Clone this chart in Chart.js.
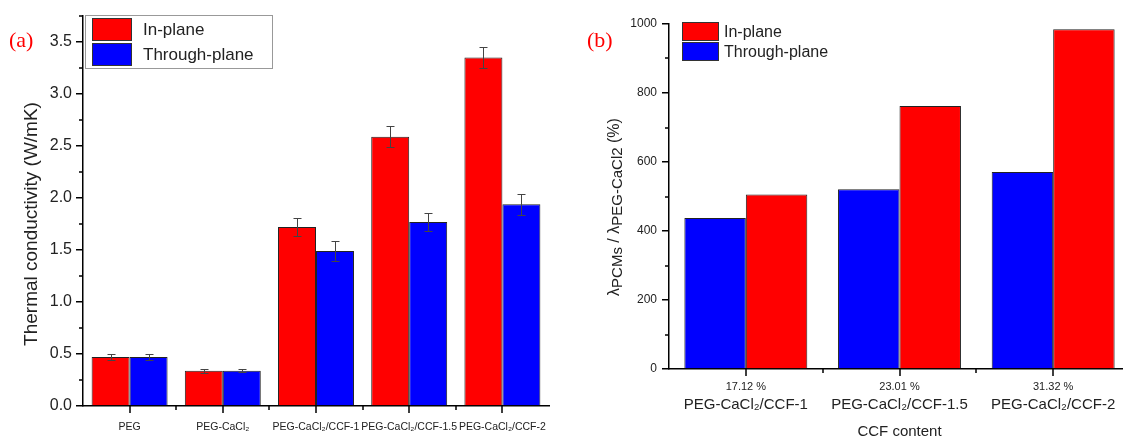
<!DOCTYPE html>
<html lang="en">
<head>
    <meta charset="UTF-8">
    <title>Thermal conductivity bars</title>
    <script src="https://cdn.jsdelivr.net/npm/chart.js"></script>
    <style>
        html, body { margin: 0; padding: 0; background: #fff; }
        body { width: 1123px; height: 441px; position: relative; overflow: hidden; }
        canvas { position: absolute; top: 0; }
        #chartA { left: 0; }
        #chartB { left: 560px; }
    </style>
</head>
<body>
    <canvas id="chartA" width="560" height="441"></canvas>
    <canvas id="chartB" width="580" height="441"></canvas>
    <script>
        // panel (a)
        var groupsA = ['PEG', 'PEG-CaCl₂', 'PEG-CaCl₂/CCF-1', 'PEG-CaCl₂/CCF-1.5', 'PEG-CaCl₂/CCF-2'];
        var inPlaneA = [0.47, 0.34, 1.72, 2.59, 3.35];
        var inPlaneErrA = [0.03, 0.02, 0.09, 0.10, 0.10];
        var throughA = [0.47, 0.34, 1.49, 1.77, 1.94];
        var throughErrA = [0.03, 0.015, 0.10, 0.09, 0.10];

        // panel (b)
        var contentB = ['17.12 %', '23.01 %', '31.32 %'];
        var samplesB = ['PEG-CaCl₂/CCF-1', 'PEG-CaCl₂/CCF-1.5', 'PEG-CaCl₂/CCF-2'];
        var throughB = [438, 521, 571];
        var inPlaneB = [506, 762, 985];

        var RED = '#ff0000', BLUE = '#0000ff';
        var SANS = '"Liberation Sans", Arial, sans-serif';
        var SERIF = '"Liberation Serif", "Times New Roman", serif';

        // group centre = middle of the two bars the library placed there
        function groupCenters(chart) {
            var a = chart.getDatasetMeta(0).data, b = chart.getDatasetMeta(1).data;
            return a.map(function(bar, i) { return (bar.x + b[i].x) / 2; });
        }

        // Origin style ticks: long ones under each group, short ones in between
        var axisTicks = {
            id: 'axisTicks',
            afterDraw: function(chart) {
                var ctx = chart.ctx, ys = chart.scales.y;
                var half = ys.options.ticks.stepSize / 2;
                var centers = groupCenters(chart);
                var axisY = chart.chartArea.bottom;
                ctx.save();
                ctx.strokeStyle = '#000';
                ctx.lineWidth = 1.5;
                ctx.beginPath();
                for (var k = 1; k * half < ys.max + 1e-9; k += 2) {
                    var py = Math.round(ys.getPixelForValue(k * half));
                    ctx.moveTo(chart.chartArea.left - 4, py);
                    ctx.lineTo(chart.chartArea.left, py);
                }
                centers.forEach(function(c, i) {
                    var px = Math.round(c);
                    ctx.moveTo(px, axisY);
                    ctx.lineTo(px, axisY + 7);
                    if (i < centers.length - 1) {
                        var mx = Math.round((c + centers[i + 1]) / 2);
                        ctx.moveTo(mx, axisY);
                        ctx.lineTo(mx, axisY + 4);
                    }
                });
                ctx.stroke();
                ctx.restore();
            }
        };

        var errorBars = {
            id: 'errorBars',
            afterDatasetsDraw: function(chart) {
                var ctx = chart.ctx, ys = chart.scales.y;
                ctx.save();
                ctx.strokeStyle = '#444';
                ctx.lineWidth = 1;
                chart.data.datasets.forEach(function(ds, di) {
                    if (!ds.errors) return;
                    chart.getDatasetMeta(di).data.forEach(function(bar, i) {
                        var v = ds.data[i], e = ds.errors[i];
                        var x = Math.round(bar.x) + 0.5;
                        var t = Math.round(ys.getPixelForValue(v + e)) + 0.5;
                        var b = Math.round(ys.getPixelForValue(v - e)) + 0.5;
                        ctx.beginPath();
                        ctx.moveTo(x, t); ctx.lineTo(x, b);
                        ctx.moveTo(x - 4, t); ctx.lineTo(x + 4, t);
                        ctx.moveTo(x - 4, b); ctx.lineTo(x + 4, b);
                        ctx.stroke();
                    });
                });
                ctx.restore();
            }
        };

        function drawSegments(ctx, segs, x, y, size) {
            // centered text made of normal and subscript pieces
            var total = 0;
            segs.forEach(function(s) {
                ctx.font = (s.sub ? size - 1 : size) + 'px ' + SANS;
                s.w = ctx.measureText(s.t).width;
                total += s.w;
            });
            var cx = x - total / 2;
            segs.forEach(function(s) {
                ctx.font = (s.sub ? size - 1 : size) + 'px ' + SANS;
                ctx.fillText(s.t, cx, y + (s.sub ? 3 : 0));
                cx += s.w;
            });
        }

        function drawLegend(ctx, chart, box, rows) {
            ctx.save();
            if (box.border) {
                ctx.strokeStyle = '#999';
                ctx.lineWidth = 1;
                ctx.strokeRect(box.border[0] + 0.5, box.border[1] + 0.5, box.border[2], box.border[3]);
            }
            rows.forEach(function(r) {
                var ds = chart.data.datasets[r.ds];
                ctx.fillStyle = ds.backgroundColor;
                ctx.fillRect(box.sx, r.y, box.sw, box.sh);
                ctx.strokeStyle = '#333';
                ctx.strokeRect(box.sx + 0.5, r.y + 0.5, box.sw - 1, box.sh - 1);
                ctx.fillStyle = '#222';
                ctx.font = box.font + 'px ' + SANS;
                ctx.textBaseline = 'middle';
                ctx.fillText(ds.label, box.tx, r.y + box.sh / 2 + 1);
            });
            ctx.restore();
        }

        var decorA = {
            id: 'decorA',
            afterDraw: function(chart) {
                var ctx = chart.ctx;
                ctx.save();
                ctx.fillStyle = '#ff0000';
                ctx.font = '22px ' + SERIF;
                ctx.textBaseline = 'middle';
                ctx.fillText('(a)', 9, 41);
                ctx.translate(32, 224);
                ctx.rotate(-Math.PI / 2);
                ctx.fillStyle = '#222';
                ctx.textAlign = 'center';
                ctx.font = '19px ' + SANS;
                ctx.fillText('Thermal conductivity (W/mK)', 0, 0);
                ctx.restore();
                drawLegend(ctx, chart,
                    { border: [85, 15, 187, 53], sx: 92, sw: 40, sh: 23, tx: 143, font: 17 },
                    [{ ds: 0, y: 18 }, { ds: 1, y: 43 }]);
            }
        };

        var decorB = {
            id: 'decorB',
            afterDraw: function(chart) {
                var ctx = chart.ctx, area = chart.chartArea;
                var centers = groupCenters(chart);
                ctx.save();
                ctx.fillStyle = '#ff0000';
                ctx.font = '22px ' + SERIF;
                ctx.textBaseline = 'middle';
                ctx.fillText('(b)', 27, 41);
                ctx.fillStyle = '#222';
                ctx.textAlign = 'left';
                ctx.textBaseline = 'middle';
                samplesB.forEach(function(name, i) {
                    drawSegments(ctx, [{ t: name }], centers[i], 405, 15);
                });
                drawSegments(ctx, [{ t: 'CCF content' }], (area.left + area.right) / 2, 432, 15);
                ctx.translate(55, 207);
                ctx.rotate(-Math.PI / 2);
                drawSegments(ctx, [
                    { t: 'λ' }, { t: 'PCMs', sub: true }, { t: ' / λ' },
                    { t: 'PEG-CaCl2', sub: true }, { t: ' (%)' }
                ], 0, 0, 16);
                ctx.restore();
                drawLegend(ctx, chart,
                    { sx: 122, sw: 37, sh: 19, tx: 164, font: 16 },
                    [{ ds: 1, y: 22 }, { ds: 0, y: 42 }]);
            }
        };

        function axes(o) {
            return {
                x: {
                    offset: true,
                    grid: { display: true, drawOnChartArea: false, drawTicks: true, tickLength: 7,
                            color: 'rgba(0,0,0,0)' },
                    border: { display: true, color: '#000', width: 1.5 },
                    ticks: { color: '#222', padding: o.xPad, maxRotation: 0, autoSkip: false,
                             font: { family: SANS, size: o.xFont } },
                    afterFit: function(s) { s.height = o.xH; }
                },
                y: {
                    min: 0, max: o.yMax,
                    grid: { display: true, drawOnChartArea: false, drawTicks: true, tickLength: 7,
                            color: '#000', lineWidth: 1.5 },
                    border: { display: true, color: '#000', width: 1.5 },
                    ticks: { stepSize: o.step, includeBounds: false, color: '#222', padding: o.yPad,
                             font: { family: SANS, size: o.yFont },
                             callback: o.fmt },
                    afterFit: function(s) { s.width = o.yW; }
                }
            };
        }

        new Chart(document.getElementById('chartA').getContext('2d'), {
            type: 'bar',
            data: {
                labels: groupsA,
                datasets: [{
                    label: 'In-plane', data: inPlaneA, errors: inPlaneErrA,
                    backgroundColor: RED, borderColor: '#222', borderWidth: 1
                }, {
                    label: 'Through-plane', data: throughA, errors: throughErrA,
                    backgroundColor: BLUE, borderColor: '#222', borderWidth: 1
                }]
            },
            options: {
                responsive: false,
                animation: false,
                categoryPercentage: 0.815,
                barPercentage: 1.0,
                layout: { padding: { top: 16, right: 11, left: 0, bottom: 0 } },
                plugins: { legend: { display: false }, tooltip: { enabled: false } },
                scales: axes({ xH: 35, xPad: 8, xFont: 10.5, yMax: 3.75, step: 0.5, yW: 83, yPad: 4, yFont: 16,
                               fmt: function(v) { return v.toFixed(1); } })
            },
            plugins: [axisTicks, errorBars, decorA]
        });

        new Chart(document.getElementById('chartB').getContext('2d'), {
            type: 'bar',
            data: {
                labels: contentB,
                datasets: [{
                    label: 'Through-plane', data: throughB,
                    backgroundColor: BLUE, borderColor: '#222', borderWidth: 1
                }, {
                    label: 'In-plane', data: inPlaneB,
                    backgroundColor: RED, borderColor: '#222', borderWidth: 1
                }]
            },
            options: {
                responsive: false,
                animation: false,
                categoryPercentage: 0.8,
                barPercentage: 1.0,
                layout: { padding: { top: 24, right: 10, left: 0, bottom: 0 } },
                plugins: { legend: { display: false }, tooltip: { enabled: false } },
                scales: axes({ xH: 72, xPad: 4, xFont: 11, yMax: 1000, step: 200, yW: 109, yPad: 5, yFont: 12,
                               fmt: function(v) { return v; } })
            },
            plugins: [axisTicks, decorB]
        });
    </script>
</body>
</html>
